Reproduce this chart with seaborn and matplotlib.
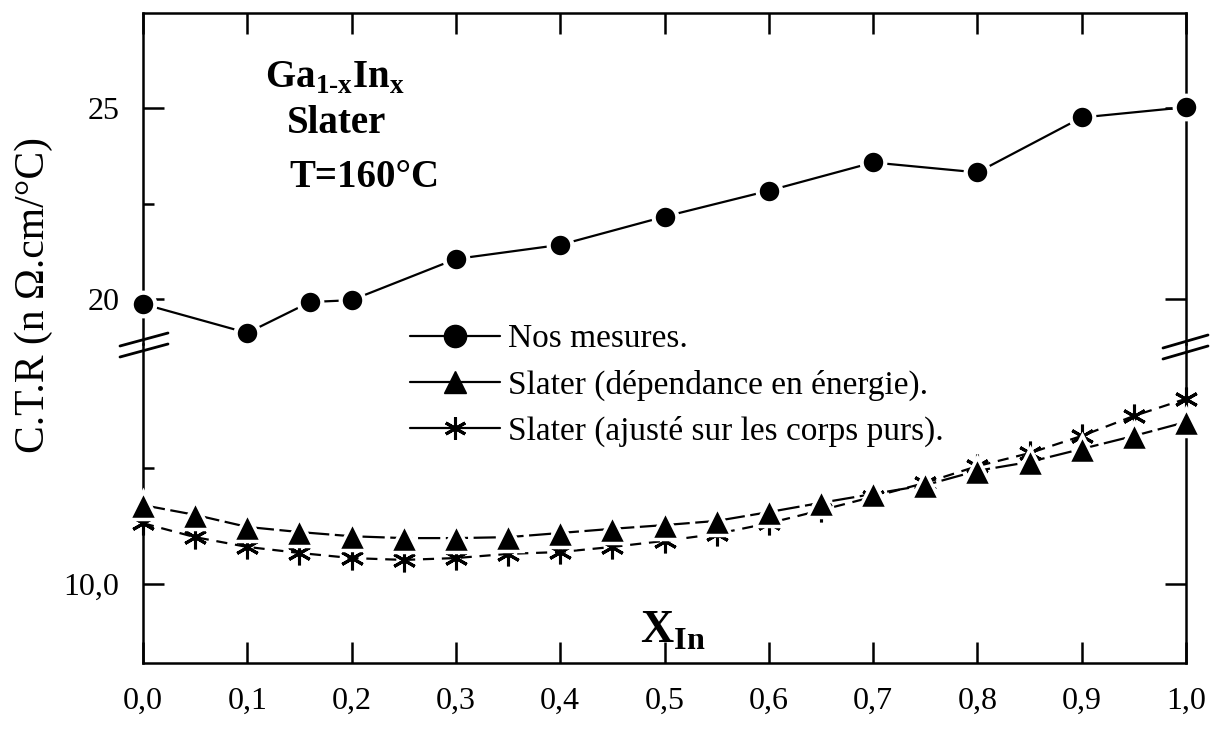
import matplotlib
matplotlib.use("Agg")
import matplotlib.pyplot as plt
import seaborn as sns
from matplotlib.lines import Line2D

sns.set_theme(style="ticks")
plt.rcParams['font.family'] = ['Liberation Serif', 'DejaVu Serif']
plt.rcParams['mathtext.fontset'] = 'custom'
plt.rcParams['mathtext.rm'] = 'Liberation Serif'
plt.rcParams['mathtext.bf'] = 'Liberation Serif:bold'
plt.rcParams['text.color'] = 'black'
plt.rcParams['xtick.color'] = 'black'
plt.rcParams['ytick.color'] = 'black'
plt.rcParams['xtick.labelcolor'] = 'black'
plt.rcParams['ytick.labelcolor'] = 'black'

# donnees
x_mesures = [0.0, 0.1, 0.16, 0.2, 0.3, 0.4, 0.5, 0.6, 0.7, 0.8, 0.9, 1.0]
ctr_mesures = [19.87, 19.11, 19.92, 19.97, 21.05, 21.42, 22.16, 22.84, 23.58, 23.32, 24.76, 25.03]

x_slater = [0.0, 0.05, 0.1, 0.15, 0.2, 0.25, 0.3, 0.35, 0.4, 0.45, 0.5,
            0.55, 0.6, 0.65, 0.7, 0.75, 0.8, 0.85, 0.9, 0.95, 1.0]
ctr_energie = [11.70, 11.49, 11.23, 11.12, 11.03, 10.99, 10.99, 11.01, 11.10, 11.19, 11.27,
               11.36, 11.55, 11.75, 11.94, 12.13, 12.44, 12.63, 12.91, 13.19, 13.49]
ctr_ajuste = [11.31, 11.01, 10.80, 10.67, 10.56, 10.52, 10.56, 10.65, 10.69, 10.80, 10.93,
              11.08, 11.31, 11.59, 11.88, 12.18, 12.54, 12.82, 13.19, 13.62, 13.99]

labels = ["Nos mesures.", "Slater (dépendance en énergie).", "Slater (ajusté sur les corps purs)."]
x_ticks = [0.0, 0.1, 0.2, 0.3, 0.4, 0.5, 0.6, 0.7, 0.8, 0.9, 1.0]
x_ticklabels = ["0,0", "0,1", "0,2", "0,3", "0,4", "0,5", "0,6", "0,7", "0,8", "0,9", "1,0"]

W, H = 1210, 735
L, R = 143, 1186
TOP, SPLIT, BOT = 13, 344, 663

fig = plt.figure(figsize=(12.1, 7.35), dpi=100)
ax_hi = fig.add_axes([L / W, 1 - SPLIT / H, (R - L) / W, (SPLIT - TOP) / H])
ax_lo = fig.add_axes([L / W, 1 - BOT / H, (R - L) / W, (BOT - SPLIT) / H])

# courbe haute : mesures
sns.lineplot(x=x_mesures, y=ctr_mesures, ax=ax_hi, color='black', linewidth=1.6,
             marker='o', markersize=17, markeredgecolor='white', markeredgewidth=3,
             clip_on=False, zorder=4)

# courbes basses : Slater
sns.lineplot(x=x_slater, y=ctr_ajuste, ax=ax_lo, color='black', linewidth=1.6,
             linestyle=(0, (5, 3.5)), marker=(6, 2, 0), markersize=17,
             markeredgecolor='black', markeredgewidth=2.2, clip_on=False, zorder=3)
sns.lineplot(x=x_slater, y=ctr_energie, ax=ax_lo, color='black', linewidth=1.6,
             linestyle=(0, (10, 2.5)), marker='^', markersize=20,
             markeredgecolor='white', markeredgewidth=2.5, clip_on=False, zorder=4)

for ax in (ax_hi, ax_lo):
    ax.set_xlim(0, 1)
    ax.set_xlabel('')
    ax.set_ylabel('')
    ax.patch.set_visible(False)
    ax.set_xticks(x_ticks)
    for s in ax.spines.values():
        s.set_linewidth(1.8)
        s.set_color('black')
    ax.tick_params(which='both', direction='in', width=1.8, color='black',
                   labelsize=23, labelcolor='black')
    ax.tick_params(which='major', length=15)
    ax.tick_params(which='minor', length=8)
    ax.tick_params(axis='y', left=True, right=True, pad=17)

ax_hi.set_ylim(18.82, 27.5)
ax_hi.set_yticks([20, 25])
ax_hi.set_yticklabels(["20", "25"])
ax_hi.set_yticks([22.5], minor=True)
ax_hi.spines['bottom'].set_visible(False)
ax_hi.tick_params(axis='x', which='both', bottom=False, top=True, labelbottom=False)

ax_lo.set_ylim(8.3, 15.17)
ax_lo.set_yticks([10])
ax_lo.set_yticklabels(["10,0"])
ax_lo.set_yticks([12.5], minor=True)
ax_lo.spines['top'].set_visible(False)
ax_lo.tick_params(axis='x', which='both', bottom=True, top=False, pad=17)
ax_lo.set_xticklabels(x_ticklabels)

# coupures de l'axe
for (x0, y0, x1, y1) in [(120, 346, 168, 333), (120, 357, 168, 344),
                         (1163, 348, 1208, 335), (1163, 359, 1208, 346)]:
    fig.add_artist(Line2D([x0 / W, x1 / W], [1 - y0 / H, 1 - y1 / H],
                          transform=fig.transFigure, color='black', lw=2))

# textes
fig.text(34 / W, 1 - 295 / H, "C.T.R (n Ω.cm/°C)", rotation=90, ha='center', va='center', fontsize=30)
fig.text(265 / W, 1 - 88 / H, "Ga$_{\\mathbf{1\u2010x}}$In$_{\\mathbf{x}}$", fontsize=28, fontweight='bold', va='baseline')
fig.text(287 / W, 1 - 133 / H, "Slater", fontsize=28, fontweight='bold', va='baseline')
fig.text(289 / W, 1 - 187 / H, "T=160°C", fontsize=28, fontweight='bold', va='baseline')
fig.text(640 / W, 1 - 642 / H, r"$\mathbf{X}_{\mathbf{In}}$", fontsize=33, va='baseline')

handles = [
    Line2D([], [], color='black', lw=1.6, marker='o', markersize=16),
    Line2D([], [], color='black', lw=1.6, marker='^', markersize=16),
    Line2D([], [], color='black', lw=1.6, marker=(6, 2, 0), markersize=16, markeredgewidth=2.2),
]
fig.legend(handles, labels, loc='upper left', bbox_to_anchor=(410 / W, 1 - 324 / H),
           frameon=False, fontsize=24, handlelength=2.7, handletextpad=0.25,
           labelspacing=0.45, borderpad=0, borderaxespad=0)

fig.savefig("out.png", dpi=100)
